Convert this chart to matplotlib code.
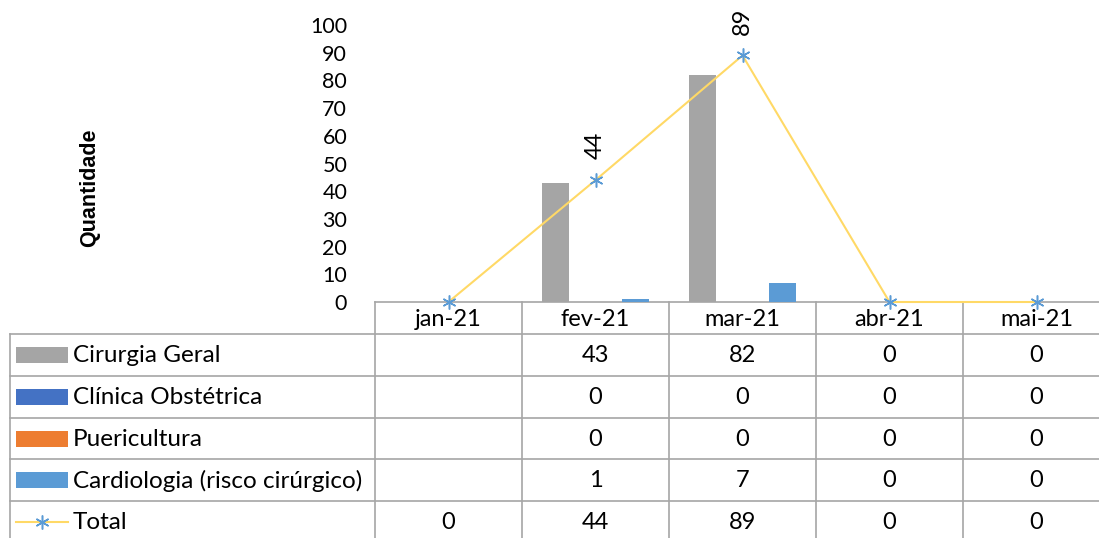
import numpy as np
import matplotlib
matplotlib.use("Agg")
import matplotlib.pyplot as plt
from matplotlib.patches import Rectangle
from matplotlib.lines import Line2D

# data
months = ["jan-21", "fev-21", "mar-21", "abr-21", "mai-21"]
cirurgia = [None, 43, 82, 0, 0]
clinica = [None, 0, 0, 0, 0]
puericultura = [None, 0, 0, 0, 0]
cardiologia = [None, 1, 7, 0, 0]
total = [0, 44, 89, 0, 0]
labelled = [1, 2]  # points of Total that carry a label

series_names = ["Cirurgia Geral", "Clínica Obstétrica", "Puericultura",
                "Cardiologia (risco cirúrgico)"]
series = [cirurgia, clinica, puericultura, cardiologia]
colors = ["#A5A5A5", "#4472C4", "#ED7D31", "#5B9BD5"]
line_color = "#FFD966"
marker_color = "#5B9BD5"

plt.rcParams['font.family'] = ['Lato', 'DejaVu Sans']
fs = 17

W, H = 1099, 538
fig = plt.figure(figsize=(W / 100, H / 100), dpi=100)

# plot area in pixels
ax_l, ax_r, ax_t, ax_b = 375, 1110, 25, 302
colw = (ax_r - ax_l) / len(months)
ax = fig.add_axes([ax_l / W, 1 - ax_b / H, (ax_r - ax_l) / W, (ax_b - ax_t) / H])

x = np.arange(len(months))
bw = 1 / 5.5
for k, (vals, c) in enumerate(zip(series, colors)):
    v = np.array([np.nan if a is None else a for a in vals], dtype=float)
    ax.bar(x + (k - 1.5) * bw, v, width=bw, color=c, zorder=2)

ax.plot(x, total, color=line_color, lw=1.5, marker=(6, 2, 0), markersize=10,
        markeredgecolor=marker_color, markerfacecolor=marker_color,
        markeredgewidth=1.1, zorder=3, clip_on=False)
for i in labelled:
    ax.annotate(str(total[i]), (x[i], total[i]), xytext=(0, 15),
                textcoords="offset points", rotation=90, ha="center",
                va="bottom", fontsize=fs)

ax.set_xlim(-0.5, len(months) - 0.5)
ax.set_ylim(0, 100)
ax.set_yticks(np.arange(0, 101, 10))
ax.tick_params(axis="y", length=0, labelsize=15.5, pad=20)
ax.set_xticks([])
for s in ax.spines.values():
    s.set_visible(False)
ax.patch.set_alpha(0)

fig.text(90 / W, 1 - 188 / H, "Quantidade", rotation=90, ha="center",
         va="center", fontsize=15.5, fontweight="bold",
         family="Liberation Sans")

# data table below the plot, pixel coordinates
tab = fig.add_axes([0, 0, 1, 1], zorder=-1)
tab.set_xlim(0, W)
tab.set_ylim(H, 0)
tab.axis("off")

gc = "#A6A6A6"
row_top = [334, 376, 418, 459, 501]
row_h = 41.8
tab_left = 10
right = 1120
bottom = 545

# header row
tab.plot([ax_l, right], [ax_b, ax_b], color=gc, lw=1.2)
for i, m in enumerate(months):
    tab.text(ax_l + colw * (i + 0.5), (ax_b + row_top[0]) / 2 + 1, m,
             ha="center", va="center", fontsize=fs)
for y in row_top:
    tab.plot([tab_left, right], [y, y], color=gc, lw=1.2)
tab.plot([tab_left, tab_left], [row_top[0], bottom], color=gc, lw=1.2)
for i in range(len(months) + 1):
    xv = ax_l + colw * i
    tab.plot([xv, xv], [ax_b, bottom], color=gc, lw=1.2)

# legend keys + values
for r, (name, vals, c) in enumerate(zip(series_names, series, colors)):
    yc = row_top[r] + row_h / 2
    tab.add_patch(Rectangle((16, yc - 8), 52, 16, color=c, lw=0))
    tab.text(73, yc + 1, name, ha="left", va="center", fontsize=17.5)
    for i, v in enumerate(vals):
        if v is not None:
            tab.text(ax_l + colw * (i + 0.5), yc + 1, str(v), ha="center",
                     va="center", fontsize=fs)

yc = row_top[4] + row_h / 2
tab.add_line(Line2D([16, 68], [yc, yc], color=line_color, lw=1.5))
tab.plot([42], [yc], marker=(6, 2, 0), markersize=10, color=marker_color,
         markeredgewidth=1.1)
tab.text(73, yc + 1, "Total", ha="left", va="center", fontsize=17.5)
for i, v in enumerate(total):
    tab.text(ax_l + colw * (i + 0.5), yc + 1, str(v), ha="center",
             va="center", fontsize=fs)

fig.savefig("out.png", dpi=100)
